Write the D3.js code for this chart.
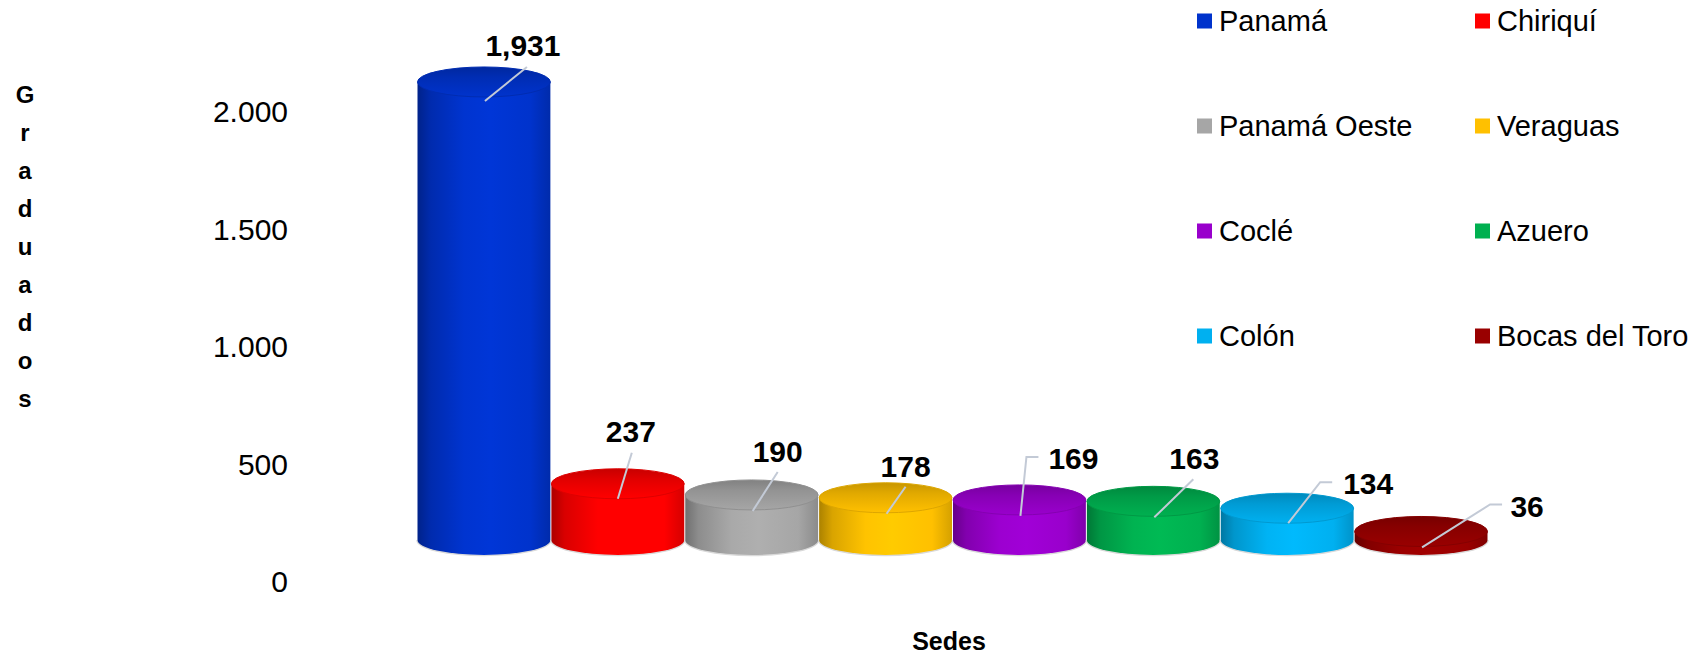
<!DOCTYPE html>
<html>
<head>
<meta charset="utf-8">
<script src="https://cdn.jsdelivr.net/npm/d3@7"></script>
<style>
  html, body { margin: 0; padding: 0; background: #fff; }
  svg { display: block; }
  text { font-family: "Liberation Sans", Arial, sans-serif; }
</style>
</head>
<body>
<div id="chart"></div>
<script>
// ---------- data ----------
const categories = ["Panamá", "Chiriquí", "Panamá Oeste", "Veraguas", "Coclé", "Azuero", "Colón", "Bocas del Toro"];
const values = [1931, 237, 190, 178, 169, 163, 134, 36];
const colors = ["#0033CC", "#FF0000", "#A6A6A6", "#FFC000", "#9900CC", "#00B050", "#00B0F0", "#990000"];
const yTicks = [0, 500, 1000, 1500, 2000];
const yTitle = "Graduados";
const xTitle = "Sedes";

// ---------- layout (not data) ----------
// label centre offset from (bar centre, top centre)
const labelOffsets = [[39, -37], [13, -53], [26, -44], [20, -32], [54, -42], [41, -43], [81, -25], [106, -25]];
// leader line points relative to (bar centre, top centre); last point is the data point
const leaderOffsets = [
  [[43, -15], [1, 19]],
  [[14, -31], [0, 15]],
  [[26, -23], [1, 16]],
  [[20, -11], [1, 16]],
  [[19, -43], [7, -43], [1, 16]],
  [[40, -22], [1, 16]],
  [[45, -26], [33, -26], [1, 15]],
  [[81, -27], [69, -27], [1, 16]]
];

const W = 1698, H = 654;
const svg = d3.select("#chart").append("svg").attr("width", W).attr("height", H);
const defs = svg.append("defs");

const x = d3.scaleBand().domain(categories).range([417, 1488]).padding(0);
const yBar = d3.scaleLinear().domain([0, 2000]).range([540, 540 - 474.4]);
const yAxis = d3.scaleLinear().domain([0, 2000]).range([582, 112]);

const ry = 15;

// ---------- axis labels ----------
const locale = d3.formatLocale({ decimal: ",", thousands: ".", grouping: [3], currency: ["", ""] });
const axisFmt = locale.format(",");
const axisG = svg.append("g").attr("transform", "translate(288,0)")
  .call(d3.axisLeft(yAxis).tickValues(yTicks).tickSize(0).tickPadding(0).tickFormat(axisFmt));
axisG.select(".domain").remove();
axisG.selectAll("text").attr("font-size", 30).attr("fill", "#000")
  .attr("font-family", "'Liberation Sans', Arial, sans-serif");

// ---------- y title (stacked letters) ----------
const yt = svg.append("text").attr("text-anchor", "middle").attr("font-weight", "bold").attr("font-size", 24).attr("fill", "#000");
yTitle.split("").forEach((ch, i) => {
  yt.append("tspan").attr("x", 25).attr("y", 103 + i * 38).text(ch);
});

// ---------- x title ----------
svg.append("text").attr("x", 949).attr("y", 650).attr("text-anchor", "middle")
  .attr("font-weight", "bold").attr("font-size", 25).attr("fill", "#000").text(xTitle);

// ---------- gradients ----------
colors.forEach((c, i) => {
  const base = d3.color(c);
  const g = defs.append("linearGradient").attr("id", "body" + i).attr("x1", "0%").attr("x2", "100%").attr("y1", "0%").attr("y2", "0%");
  const stops = [
    [0, base.darker(1.1)],
    [0.1, base.darker(0.45)],
    [0.35, base.brighter(0.05)],
    [0.55, base.brighter(0.15)],
    [0.85, base],
    [1, base.darker(0.5)]
  ];
  stops.forEach(([o, col]) => g.append("stop").attr("offset", o).attr("stop-color", col.formatHex()));

  const t = defs.append("linearGradient").attr("id", "top" + i).attr("x1", "0%").attr("x2", "0%").attr("y1", "0%").attr("y2", "100%");
  [[0, base.darker(0.7)], [0.35, base.darker(0.35)], [0.8, base.darker(0.1)], [1, base]]
    .forEach(([o, col]) => t.append("stop").attr("offset", o).attr("stop-color", col.formatHex()));
});

// ---------- cylinders ----------
const bars = svg.append("g");
categories.forEach((cat, i) => {
  const v = values[i];
  const cx = x(cat) + x.bandwidth() / 2;
  const rx = x.bandwidth() / 2 - 0.5;
  const yT = yBar(v), yB = yBar(0);
  const g = bars.append("g");
  g.append("path")
    .attr("d", `M${cx - rx},${yB} A${rx},${ry} 0 0 0 ${cx + rx},${yB}`)
    .attr("fill", "none").attr("stroke", "#d9d9d9").attr("stroke-width", 2.5);
  g.append("path")
    .attr("d", `M${cx - rx},${yT} L${cx - rx},${yB} A${rx},${ry} 0 0 0 ${cx + rx},${yB} L${cx + rx},${yT} Z`)
    .attr("fill", `url(#body${i})`);
  g.append("ellipse").attr("cx", cx).attr("cy", yT).attr("rx", rx).attr("ry", ry)
    .attr("fill", `url(#top${i})`)
    .attr("stroke", d3.color(colors[i]).darker(0.4).formatHex()).attr("stroke-width", 1);
});

// ---------- data labels ----------
const numFmt = d3.format(",");
const labels = svg.append("g");
categories.forEach((cat, i) => {
  const cx = x(cat) + x.bandwidth() / 2;
  const yT = yBar(values[i]);
  const pts = leaderOffsets[i].map(([dx, dy]) => [cx + dx, yT + dy]);
  labels.append("path").attr("d", d3.line()(pts))
    .attr("fill", "none").attr("stroke", "#c3cad6").attr("stroke-width", 2);
  labels.append("text")
    .attr("x", cx + labelOffsets[i][0]).attr("y", yT + labelOffsets[i][1] + 11)
    .attr("text-anchor", "middle").attr("font-weight", "bold").attr("font-size", 30).attr("fill", "#000")
    .text(numFmt(values[i]));
});

// ---------- legend ----------
const legend = svg.append("g");
categories.forEach((cat, i) => {
  const col = i % 2, row = Math.floor(i / 2);
  const lx = col === 0 ? 1197 : 1475;
  const ly = 21 + row * 105;
  legend.append("rect").attr("x", lx).attr("y", ly - 7.5).attr("width", 15).attr("height", 15).attr("fill", colors[i]);
  legend.append("text").attr("x", lx + 22).attr("y", ly + 10).attr("font-size", 29).attr("fill", "#000").text(cat);
});
</script>
</body>
</html>
